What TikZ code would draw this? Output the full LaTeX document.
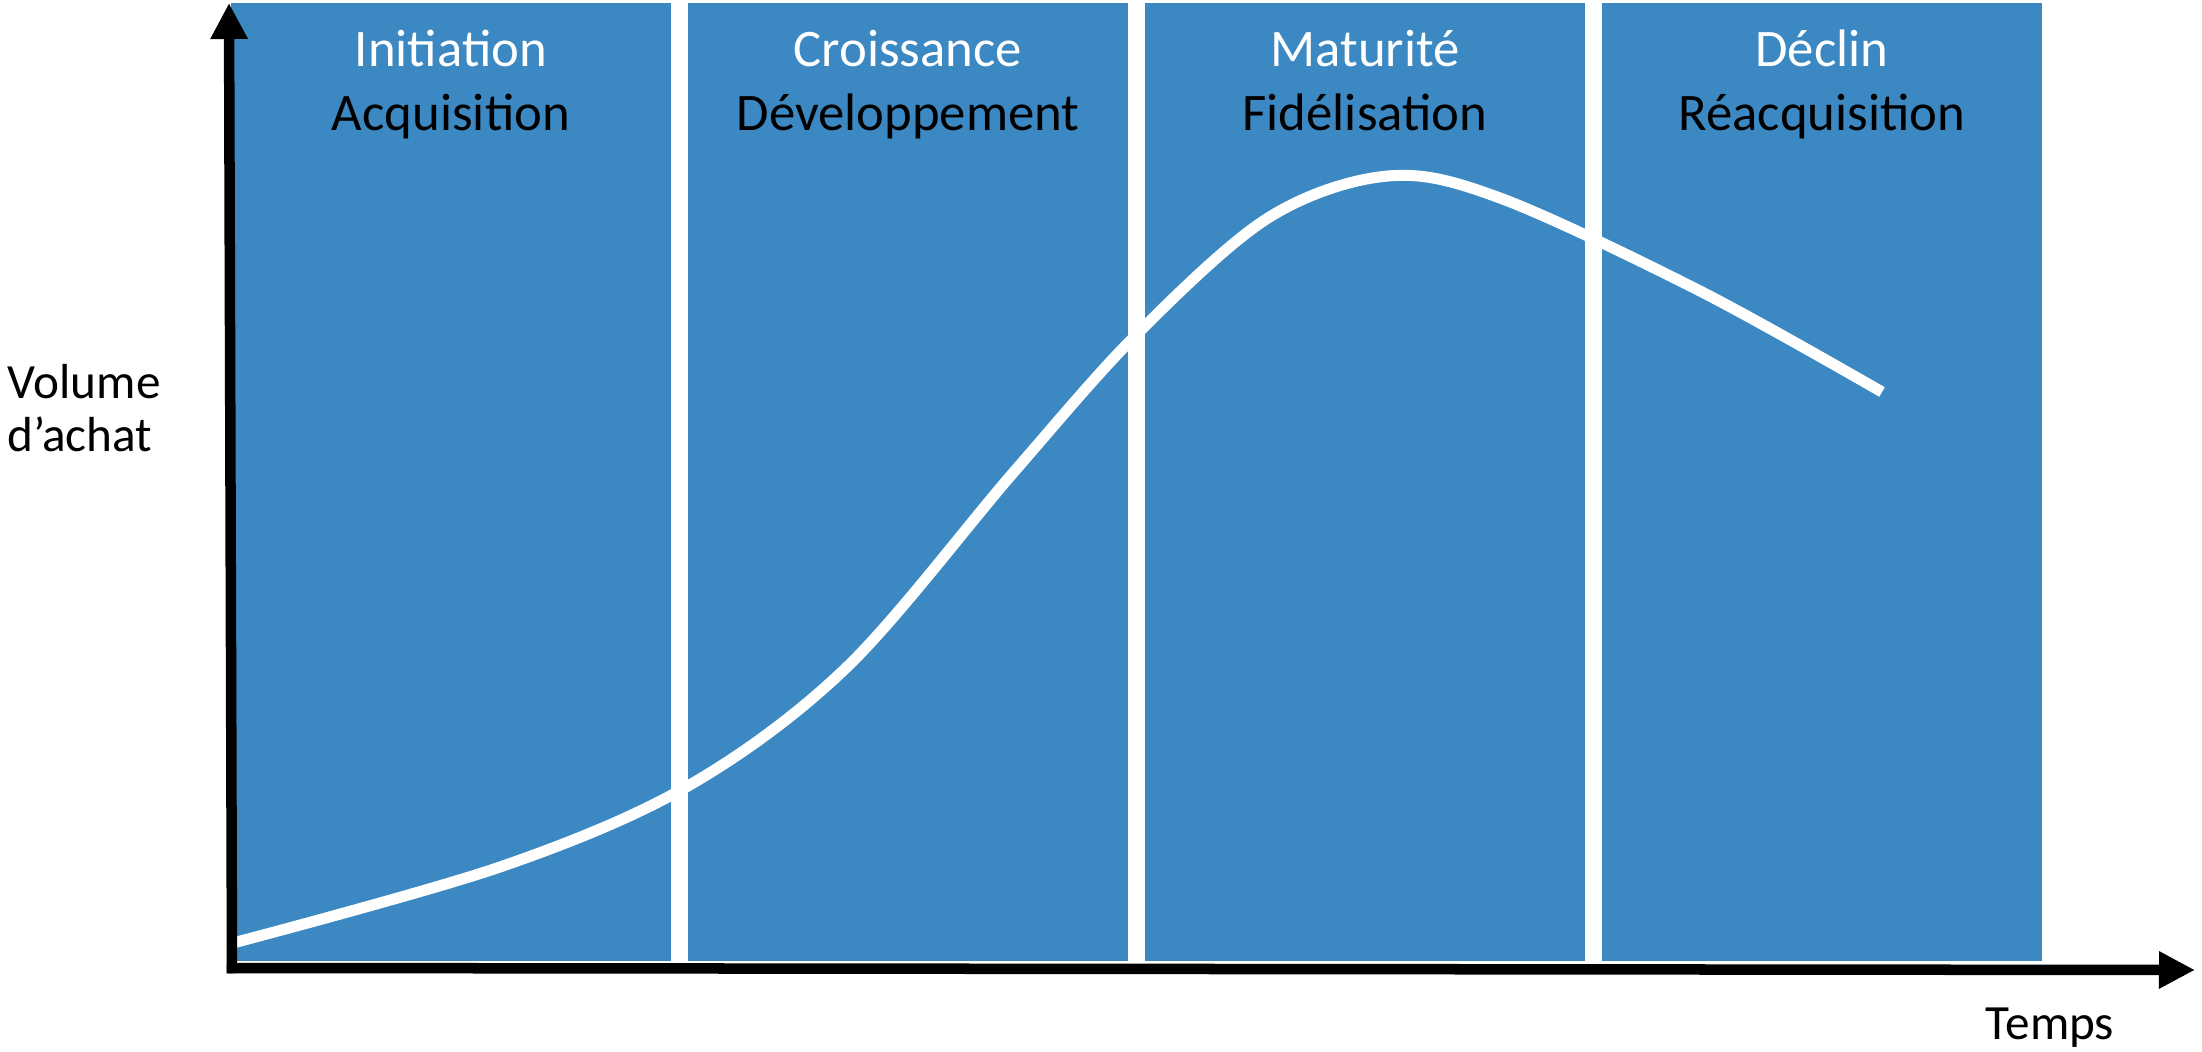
\documentclass[tikz,border=0pt]{standalone}
\usepackage{fontspec}
\setmainfont{Carlito}
\usetikzlibrary{arrows.meta}
\definecolor{phase}{RGB}{59,136,194}

\begin{document}
\begin{tikzpicture}[x=0.01cm,y=-0.01cm,line join=round,
	axis/.style={line width=0.105cm,line cap=rect,-{Triangle[length=0.36cm,width=0.35cm]}},
	phasetitle/.style={anchor=base,text=white,font=\fontsize{15}{18}\selectfont},
	phasegoal/.style={anchor=base,text=black,font=\fontsize{15}{18}\selectfont},
	axislabel/.style={font=\fontsize{14}{17}\selectfont,inner sep=0pt}]
	\useasboundingbox (0,0) rectangle (2202,1052);
	% les quatre phases
	\foreach \x/\t/\g/\n in {231/Initiation/Acquisition/init, 688/Croissance/Développement/crois, 1145/Maturité/Fidélisation/mat, 1602/Déclin/Réacquisition/decl}{
		\fill[phase] (\x,3) rectangle ++(440,958);
		\node[phasetitle] (\n-t) at (\x+220,67) {\t};
		\node[phasegoal] (\n-g) at (\x+220,131) {\g};
	}
	% courbe du volume
	\draw[white,line width=0.11cm] plot[smooth,tension=0.55] coordinates{(233,943) (500,867) (688,786) (847,667) (1013,473) (1136,335) (1268,218) (1388,176) (1500,198) (1700,291) (1882,392)};
	\path
	(232,968) coordinate (O)
	(229,3) coordinate (Y)
	(2195,970) coordinate (X);
	\draw[axis] (O)--(Y);
	\draw[axis] (O)--(X);
	\node[axislabel,anchor=base west] (vol) at (7,399) {Volume};
	\node[axislabel,anchor=base west] (ach) at (7,452) {d’achat};
	\node[axislabel,anchor=base] (temps) at (2050,1039) {Temps};
\end{tikzpicture}
\end{document}
